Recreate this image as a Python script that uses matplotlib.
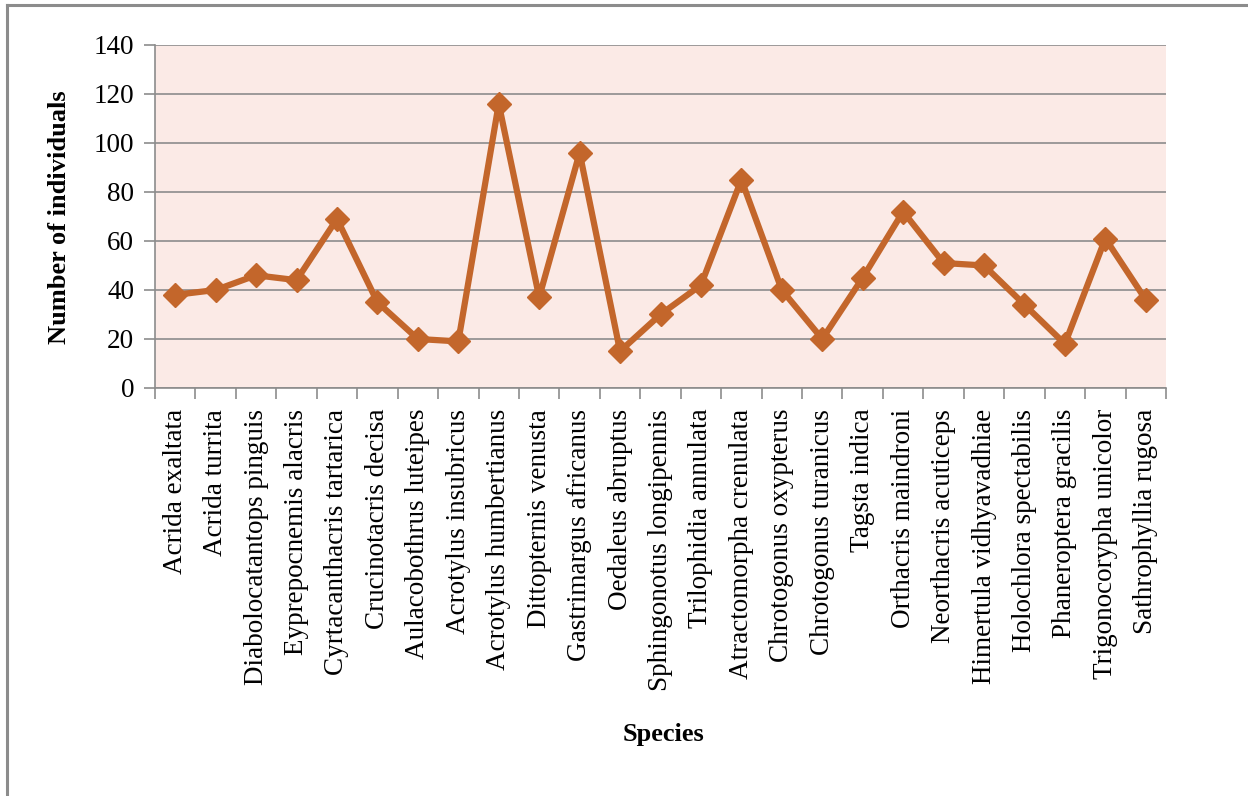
import matplotlib.pyplot as plt
from matplotlib.lines import Line2D
import numpy as np

species = [
    "Acrida exaltata", "Acrida turrita", "Diabolocatantops pinguis",
    "Eyprepocnemis alacris", "Cyrtacanthacris tartarica", "Crucinotacris decisa",
    "Aulacobothrus luteipes", "Acrotylus insubricus", "Acrotylus humbertianus",
    "Dittopternis venusta", "Gastrimargus africanus", "Oedaleus abruptus",
    "Sphingonotus longipennis", "Trilophidia annulata", "Atractomorpha crenulata",
    "Chrotogonus oxypterus", "Chrotogonus turanicus", "Tagsta indica",
    "Orthacris maindroni", "Neorthacris acuticeps", "Himertula vidhyavadhiae",
    "Holochlora spectabilis", "Phaneroptera gracilis", "Trigonocorypha unicolor",
    "Sathrophyllia rugosa",
]
counts = [38, 40, 46, 44, 69, 35, 20, 19, 116, 37, 96, 15, 30, 42, 85, 40, 20,
          45, 72, 51, 50, 34, 18, 61, 36]
yticks = [0, 20, 40, 60, 80, 100, 120, 140]

plt.rcParams['font.family'] = ['Liberation Serif', 'DejaVu Serif']

fig = plt.figure(figsize=(12.48, 7.96), dpi=100)
ax = fig.add_axes([0.1242, 0.5126, 0.8101, 0.4309])
ax.set_facecolor('#FBEAE6')

x = np.arange(len(species))
ax.plot(x, counts, color='#C3662B', lw=4.5, marker='D', ms=12,
        markeredgecolor='#C3662B', zorder=3)

ax.set_xlim(-0.5, len(species) - 0.5)
ax.set_ylim(0, 140)
ax.set_yticks(yticks)
ax.yaxis.grid(True, color='#8C8C8C', lw=1.2)
ax.set_axisbelow(True)

# category labels sit between the boundary ticks
ax.set_xticks(np.arange(len(species) + 1) - 0.5)
ax.set_xticklabels([])
ax.set_xticks(x, minor=True)
ax.set_xticklabels(species, minor=True, rotation=90, fontsize=19.5)
ax.tick_params(axis='x', which='minor', length=0, pad=15)
ax.tick_params(axis='x', which='major', length=8, color='#8C8C8C', width=1.2)
ax.tick_params(axis='y', length=8, color='#8C8C8C', width=1.2, labelsize=19.5, pad=7)

for s in ('top', 'right'):
    ax.spines[s].set_visible(False)
for s in ('left', 'bottom'):
    ax.spines[s].set_color('#8C8C8C')
    ax.spines[s].set_linewidth(1.2)

fig.text(0.048, 0.727, 'Number of individuals', rotation=90, ha='center',
         va='center', fontsize=19, fontweight='bold')
fig.text(0.532, 0.077, 'Species', ha='center', va='center', fontsize=19,
         fontweight='bold')

# outer frame
fig.add_artist(Line2D([0.0056, 1.0], [0.9937, 0.9937], color='#8C8C8C', lw=2.2))
fig.add_artist(Line2D([0.0056, 0.0056], [0.0, 0.9937], color='#8C8C8C', lw=2.2))

fig.savefig('out.png', dpi=100)
